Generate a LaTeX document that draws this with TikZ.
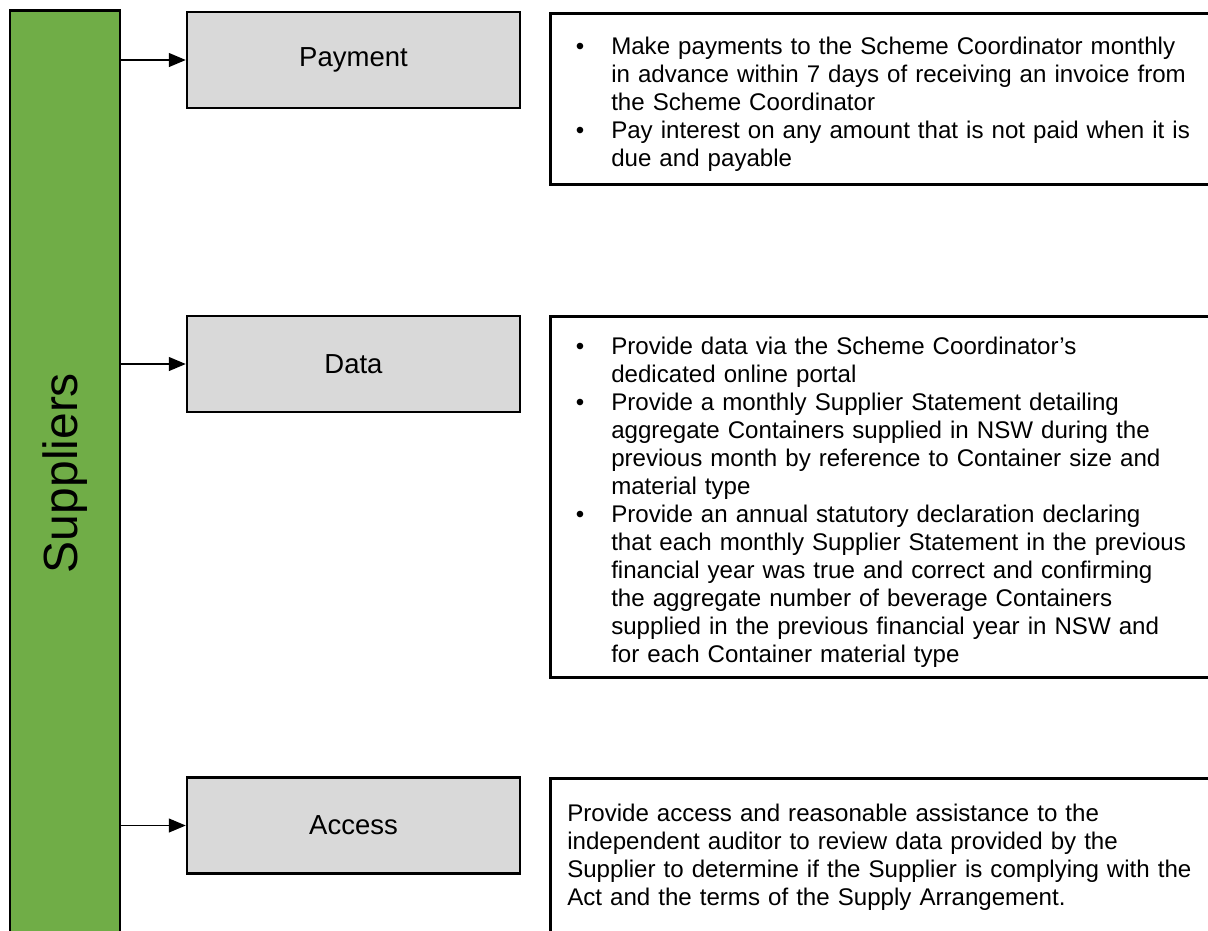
\documentclass[tikz,border=0pt]{standalone}
\usepackage{fontspec}
\setmainfont{Liberation Sans}
\usepackage{enumitem}
\usetikzlibrary{arrows.meta,calc,positioning}
\definecolor{supgreen}{RGB}{112,173,71}
\definecolor{boxgray}{RGB}{217,217,217}
\newcommand{\bodyfont}{\fontsize{24.1}{28}\selectfont}
\newlist{duties}{itemize}{1}
\setlist[duties]{label=\textbullet,leftmargin=61pt,labelsep=27pt,itemsep=0pt,topsep=0pt,parsep=0pt,partopsep=0pt}

\begin{document}
\begin{tikzpicture}[x=1pt,y=-1pt,
  bar/.style={draw,line width=2.5pt,fill=supgreen,minimum width=110pt,minimum height=925pt,inner sep=0pt,font=\fontsize{48}{52}\selectfont},
  topic/.style={draw,line width=2.5pt,fill=boxgray,minimum width=333pt,minimum height=96pt,font=\fontsize{27.5}{30}\selectfont},
  duty/.style={draw,line width=2.5pt,anchor=north west,inner sep=0pt,text width=680pt,align=left,font=\bodyfont},
  plainduty/.style={duty,inner xsep=17pt,text width=663pt},
  arr/.style={line width=1.3pt,-{Triangle[length=17pt,width=14pt]}}]
  \useasboundingbox (0,0) rectangle (1208,930);
  \clip (0,0) rectangle (1208,930);
  \node[bar] (sup) at (65,473) {\rotatebox{90}{Suppliers}};
  \node[topic] (pay) at (353.5,60) {Payment};
  \node[topic] (data) at (353.5,364) {Data};
  \node[topic] (acc) at (353.5,825.5) {Access};
  \node[duty,minimum height=171pt] (paytext) at (549,12) {%
    \begin{duties}
    \item Make payments to the Scheme Coordinator monthly\newline
      in advance within 7 days of receiving an invoice from\newline
      the Scheme Coordinator
    \item Pay interest on any amount that is not paid when it is\newline
      due and payable
    \end{duties}};
  \node[duty,minimum height=361pt] (datatext) at (549,315) {%
    \begin{duties}
    \item Provide data via the Scheme Coordinator’s\newline
      dedicated online portal
    \item Provide a monthly Supplier Statement detailing\newline
      aggregate Containers supplied in NSW during the\newline
      previous month by reference to Container size and\newline
      material type
    \item Provide an annual statutory declaration declaring\newline
      that each monthly Supplier Statement in the previous\newline
      financial year was true and correct and confirming\newline
      the aggregate number of beverage Containers\newline
      supplied in the previous financial year in NSW and\newline
      for each Container material type
    \end{duties}};
  \node[plainduty,minimum height=158pt] (acctext) at (549,777) {%
    Provide access and reasonable assistance to the\\
    independent auditor to review data provided by the\\
    Supplier to determine if the Supplier is complying with the\\
    Act and the terms of the Supply Arrangement.};
  \draw[arr] (sup.east |- pay.west) -- (pay.west);
  \draw[arr] (sup.east |- data.west) -- (data.west);
  \draw[arr] (sup.east |- acc.west) -- (acc.west);
\end{tikzpicture}
\end{document}
